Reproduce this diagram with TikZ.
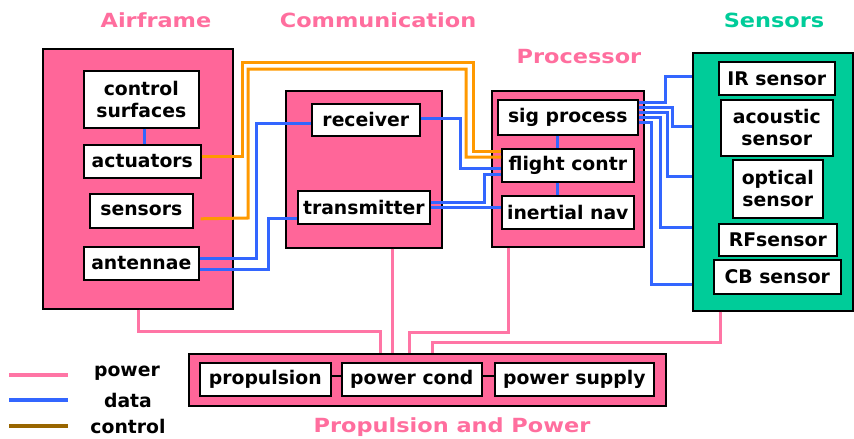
\documentclass[tikz,border=0pt]{standalone}
\usepackage{fontspec}
\setmainfont{DejaVu Sans}
\newfontfamily\ttlfont[FakeStretch=1.15]{DejaVu Sans Bold}
\definecolor{pinkf}{HTML}{FF6699}
\definecolor{pinkt}{HTML}{FF6E9E}
\definecolor{powc}{HTML}{FF75A5}
\definecolor{datac}{HTML}{3366FF}
\definecolor{ctlc}{HTML}{FF9900}
\definecolor{ctll}{HTML}{996600}
\definecolor{greenf}{HTML}{00CC99}
\begin{document}
\begin{tikzpicture}[x=1pt,y=-1pt,
  grp/.style={draw=black, line width=1.6pt, fill=pinkf, inner sep=0pt, anchor=north west},
  bx/.style={draw=black, line width=1.6pt, fill=white, inner sep=0pt, anchor=north west, align=center,
     font=\fontsize{18.8}{22}\selectfont\bfseries},
  ttl/.style={text=pinkt, font=\ttlfont\fontsize{19.5}{24}\selectfont},
  leg/.style={font=\fontsize{18.8}{22}\selectfont\bfseries},
  pwr/.style={draw=powc, line width=3pt},
  dat/.style={draw=datac, line width=3pt},
  ctl/.style={draw=ctlc, line width=3pt},
  blk/.style={draw=black, line width=2.5pt}]
\useasboundingbox (0,0) rectangle (854,439);

% titles
\node[ttl] (tair) at (156,20) {Airframe};
\node[ttl] (tcom) at (378,20) {Communication};
\node[ttl] (tpro) at (579,57) {Processor};
\node[ttl, text=greenf] (tsen) at (774,20) {Sensors};
\node[ttl] (tprop) at (452,427) {Propulsion and Power};

% groups
\node[grp, minimum width=190pt, minimum height=260pt] (air) at (42,48) {};
\node[grp, minimum width=156pt, minimum height=157pt] (comm) at (285,90) {};
\node[grp, minimum width=152pt, minimum height=156pt] (proc) at (491,90) {};
\node[grp, fill=greenf, minimum width=160pt, minimum height=258pt] (sens) at (692,52) {};
\node[grp, minimum width=477pt, minimum height=52pt] (prop) at (188,353) {};

% inner boxes
\node[bx, minimum width=115pt, minimum height=57pt] (cs) at (83,70) {control\\surfaces};
\node[bx, minimum width=117pt, minimum height=33pt] (act) at (83,144) {actuators};
\node[bx, minimum width=103pt, minimum height=34pt] (sen) at (89,193) {sensors};
\node[bx, minimum width=115pt, minimum height=33pt] (ant) at (83,246) {antennae};
\node[bx, minimum width=108pt, minimum height=32pt] (rec) at (311,103) {receiver};
\node[bx, minimum width=132pt, minimum height=33pt] (tra) at (297,190) {transmitter};
\node[bx, minimum width=140pt, minimum height=35pt] (sig) at (497,99) {sig process};
\node[bx, minimum width=132pt, minimum height=33pt] (fc) at (501,148) {flight contr};
\node[bx, minimum width=132pt, minimum height=33pt] (in) at (501,195) {inertial nav};
\node[bx, minimum width=116pt, minimum height=33pt] (ir) at (718,61) {IR sensor};
\node[bx, minimum width=112pt, minimum height=56pt] (ac) at (720,99) {acoustic\\sensor};
\node[bx, minimum width=90pt, minimum height=58pt] (op) at (732,159) {optical\\sensor};
\node[bx, minimum width=118pt, minimum height=32pt] (rf) at (718,223) {RFsensor};
\node[bx, minimum width=127pt, minimum height=34pt] (cb) at (713,259) {CB sensor};
\node[bx, minimum width=131pt, minimum height=33pt] (pr) at (199,362) {propulsion};
\node[bx, minimum width=140pt, minimum height=33pt] (pc) at (341,362) {power cond};
\node[bx, minimum width=159pt, minimum height=33pt] (ps) at (494,362) {power supply};

% internal links
\draw[dat] (cs.south -| 144,0) -- (act.north -| 144,0);
\draw[dat] (sig.south -| 557,0) -- (fc.north -| 557,0);
\draw[dat] (fc.south -| 557,0) -- (in.north -| 557,0);
\draw[blk] (pr.east |- 0,376) -- (pc.west |- 0,376);
\draw[blk] (pc.east |- 0,376) -- (ps.west |- 0,376);

% control lines
\draw[ctl] (act.east |- 0,156) -- (242,156) -- (242,62) -- (473,62) -- (473,151) -- (fc.west |- 0,151);
\draw[ctl] ([shift={(7pt,-8pt)}]sen.east) -- (248,218) -- (248,69) -- (466,69) -- (466,157) -- (fc.west |- 0,157);

% data lines
\draw[dat] (ant.east |- 0,258) -- (256,258) -- (256,123) -- (rec.west |- 0,123);
\draw[dat] (ant.east |- 0,269) -- (268,269) -- (268,218) -- (tra.west |- 0,218);
\draw[dat] (rec.east |- 0,118) -- (460,118) -- (460,168) -- (fc.west |- 0,168);
\draw[dat] (tra.east |- 0,202) -- (484,202) -- (484,174) -- (fc.west |- 0,174);
\draw[dat] (tra.east |- 0,207) -- (in.west |- 0,207);
\draw[dat] (sig.east |- 0,102) -- (665,102) -- (665,76) -- (sens.west |- 0,76);
\draw[dat] (sig.east |- 0,107) -- (672,107) -- (672,126) -- (sens.west |- 0,126);
\draw[dat] (sig.east |- 0,112) -- (667,112) -- (667,176) -- (sens.west |- 0,176);
\draw[dat] (sig.east |- 0,117) -- (660,117) -- (660,227) -- (sens.west |- 0,227);
\draw[dat] (sig.east |- 0,122) -- (651,122) -- (651,284) -- (sens.west |- 0,284);

% power lines
\draw[pwr] (air.south -| 138,0) -- (138,331) -- (380,331) -- (prop.north -| 380,0);
\draw[pwr] (comm.south -| 392,0) -- (prop.north -| 392,0);
\draw[pwr] (proc.south -| 508,0) -- (508,332) -- (409,332) -- (prop.north -| 409,0);
\draw[pwr] (sens.south -| 720,0) -- (720,342) -- (432,342) -- (prop.north -| 432,0);

% legend
\coordinate (lp1) at (9,375); \coordinate (lp2) at (68,375);
\coordinate (ld1) at (9,400); \coordinate (ld2) at (68,400);
\coordinate (lc1) at (9,426); \coordinate (lc2) at (68,426);
\draw[draw=powc, line width=4pt] (lp1) -- (lp2);
\draw[draw=datac, line width=4pt] (ld1) -- (ld2);
\draw[draw=ctll, line width=4pt] (lc1) -- (lc2);
\node[leg] (lpow) at (127,373) {power};
\node[leg] (ldat) at (128,400) {data};
\node[leg] (lctl) at (128,426) {control};
\end{tikzpicture}
\end{document}
